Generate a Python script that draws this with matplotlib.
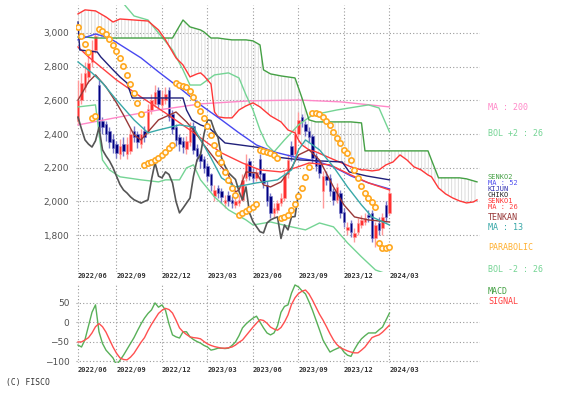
import matplotlib
matplotlib.use("Agg")
import matplotlib.pyplot as plt

W, H = 562, 397

# weekly bars, week 0 = first bar (2022/06)
opens = [2480, 2600, 2680, 2740, 2830, 2900, 2690, 2480, 2460, 2420,
         2370, 2340, 2280, 2340, 2280, 2300, 2420, 2400, 2340, 2420,
         2420, 2540, 2580, 2660, 2570, 2600, 2660, 2520, 2440, 2380,
         2360, 2310, 2350, 2450, 2320, 2280, 2250, 2210, 2160, 2030,
         2080, 2060, 1990, 2040, 2010, 1980, 1990, 2010, 2140, 2240,
         2170, 2140, 2250, 2170, 2100, 2030, 1930, 1950, 1990, 2020,
         2160, 2330, 2280, 2400, 2500, 2460, 2420, 2390, 2270, 2220,
         2060, 2150, 2140, 2060, 2010, 2050, 1940, 1830, 1870, 1790,
         1820, 1860, 1880, 1920, 1930, 1780, 1870, 1840, 1980, 1930]
highs = [2720, 2760, 2830, 2880, 2960, 3000, 2720, 2500, 2480, 2440,
         2400, 2360, 2370, 2380, 2380, 2430, 2450, 2420, 2430, 2450,
         2580, 2640, 2690, 2680, 2660, 2680, 2680, 2540, 2460, 2400,
         2380, 2390, 2470, 2470, 2340, 2300, 2270, 2230, 2170, 2100,
         2100, 2080, 2040, 2060, 2030, 2030, 2040, 2160, 2280, 2260,
         2200, 2200, 2280, 2170, 2120, 2050, 1990, 2010, 2050, 2180,
         2280, 2360, 2430, 2530, 2520, 2480, 2440, 2400, 2290, 2240,
         2180, 2180, 2160, 2080, 2110, 2070, 1960, 1880, 1890, 1840,
         1900, 1920, 1930, 1950, 1950, 1880, 1910, 1930, 2000, 2080]
lows = [2460, 2580, 2650, 2700, 2800, 2880, 2380, 2400, 2360, 2320,
        2290, 2260, 2250, 2270, 2250, 2280, 2350, 2320, 2320, 2350,
        2400, 2520, 2560, 2550, 2550, 2580, 2480, 2400, 2330, 2300,
        2290, 2280, 2330, 2280, 2240, 2200, 2170, 2120, 2060, 2000,
        2020, 1990, 1960, 1970, 1960, 1960, 1970, 2000, 2120, 2130,
        2110, 2120, 2130, 2080, 1970, 1900, 1910, 1930, 1970, 2000,
        2140, 2240, 2260, 2380, 2440, 2390, 2350, 2230, 2180, 2140,
        1960, 2100, 2030, 1980, 1990, 1900, 1850, 1800, 1790, 1760,
        1800, 1840, 1860, 1880, 1760, 1730, 1800, 1800, 1880, 1920]
closes = [2600, 2700, 2760, 2820, 2900, 2980, 2420, 2440, 2400, 2350,
          2320, 2290, 2330, 2300, 2340, 2400, 2380, 2350, 2400, 2380,
          2550, 2600, 2650, 2580, 2620, 2640, 2500, 2430, 2365, 2340,
          2323, 2360, 2440, 2306, 2270, 2240, 2200, 2150, 2100, 2068,
          2050, 2027, 2010, 2000, 1990, 2000, 2009, 2130, 2230, 2150,
          2140, 2175, 2160, 2110, 2000, 1932, 1960, 1990, 2020, 2150,
          2246, 2276, 2400, 2484, 2480, 2420, 2380, 2260, 2210, 2170,
          2150, 2130, 2060, 2009, 2086, 1932, 1880, 1850, 1820, 1813,
          1872, 1890, 1900, 1908, 1780, 1860, 1831, 1908, 1910, 2050]

parabolic = [3036, 2982, 2935, 2887, 2496, 2508, 3024, 3012, 2994, 2964,
             2929, 2893, 2852, 2804, 2751, 2697, 2644, 2585, 2519, 2217,
             2228, 2234, 2246, 2258, 2276, 2294, 2318, 2335, 2703, 2691,
             2686, 2680, 2656, 2620, 2579, 2537, 2496, 2448, 2395, 2335,
             2288, 2234, 2175, 2128, 2080, 2039, 1920, 1932, 1944, 1956,
             1967, 1985, 2306, 2300, 2294, 2288, 2276, 2258, 1902, 1908,
             1920, 1950, 1985, 2033, 2080, 2146, 2205, 2525, 2525, 2519,
             2502, 2478, 2454, 2413, 2377, 2347, 2306, 2288, 2246, 2187,
             2140, 2092, 2050, 2021, 1997, 1967, 1754, 1724, 1724, 1730]

# ichimoku cloud (senko spans, shifted 26 weeks ahead)
cloud_weeks = [0, 2, 5, 8, 10, 12, 16, 20, 23, 25, 27, 28, 30, 32, 34, 35, 36, 38, 39, 40,
               42, 44, 46, 48, 50, 52, 53, 55, 58, 60, 62, 63, 64, 66, 68, 70, 72, 74, 76, 78,
               81, 82, 84, 86, 88, 90, 92, 94, 96, 98, 100, 101, 103, 105, 107, 109, 111, 113, 114]
senko1 = [3113, 3137, 3131, 3095, 3065, 3083, 3077, 3071, 3018, 2959,
          2887, 2852, 2810, 2739, 2757, 2763, 2745, 2697, 2531, 2502,
          2496, 2496, 2543, 2567, 2585, 2561, 2543, 2508, 2472, 2424,
          2407, 2365, 2335, 2306, 2294, 2276, 2258, 2240, 2223, 2205,
          2187, 2187, 2181, 2187, 2217, 2234, 2276, 2246, 2205, 2187,
          2157, 2146, 2080, 2045, 2021, 2003, 1991, 1997, 2009]
senko2 = [2976, 2976, 2970, 2970, 2970, 2970, 2970, 2970, 2970, 2970,
          2970, 3006, 3077, 3036, 3024, 3018, 3006, 2970, 2970, 2970,
          2964, 2959, 2959, 2959, 2953, 2929, 2781, 2757, 2745, 2739,
          2733, 2674, 2614, 2484, 2472, 2472, 2472, 2472, 2472, 2472,
          2466, 2300, 2300, 2300, 2300, 2300, 2300, 2300, 2300, 2300,
          2300, 2246, 2140, 2140, 2140, 2140, 2134, 2122, 2116]

ma200_weeks = [0, 12, 23, 35, 49, 63, 75, 89]
ma200 = [2454, 2502, 2543, 2579, 2597, 2602, 2591, 2561]

ma52_weeks = [0, 5, 9, 18, 23, 29, 35, 41, 46, 51, 56, 63, 68, 73, 78, 83, 89]
ma52 = [2959, 2994, 2970, 2852, 2769, 2674, 2573, 2484, 2407, 2335, 2294, 2258, 2240, 2205, 2151, 2110, 2074]

ma26_weeks = [0, 3, 11, 18, 25, 32, 37, 41, 47, 52, 58, 62, 66, 72, 78, 83, 89]
ma26 = [2917, 2858, 2721, 2620, 2525, 2424, 2347, 2288, 2228, 2187, 2175, 2199, 2228, 2217, 2157, 2110, 2068]

kijun_weeks = [0, 0.5, 5.5, 6.5, 10, 12, 14, 15.5, 30, 31, 32.5, 35, 37.5, 42, 52.5, 56.5, 63.5, 75.5, 77.5, 82.5, 89]
kijun = [3065, 2899, 2887, 2858, 2781, 2739, 2703, 2614, 2614, 2543, 2484, 2454, 2436, 2347, 2318, 2264, 2246, 2234, 2175, 2151, 2128]

tenkan_weeks = [0, 3, 5, 8, 11, 13, 16, 18, 20, 23, 28, 31, 33, 36, 40, 43, 45, 46, 48, 51,
                53, 55, 58, 61, 63, 66, 69, 73, 76, 79, 83, 89]
tenkan = [2602, 2709, 2751, 2680, 2585, 2513, 2395, 2365, 2413, 2484, 2531, 2472, 2424, 2335, 2228, 2157,
          2056, 2068, 2175, 2169, 2098, 2086, 2116, 2199, 2276, 2306, 2246, 2086, 1979, 1908, 1890, 1878]

ma13_weeks = [0, 4, 7, 11, 16, 20, 23, 29, 33, 38, 41, 45, 51, 57, 61, 63, 65, 69, 73, 77, 81, 84, 89]
ma13 = [2828, 2763, 2703, 2602, 2484, 2407, 2424, 2454, 2442, 2258, 2140, 2086, 2110, 2128, 2187, 2306,
        2365, 2306, 2205, 2086, 1979, 1908, 1860]

bol_up_weeks = [10, 12, 14, 16, 20, 23, 27, 30, 32, 35, 39, 43, 46, 48, 50, 52, 54, 56, 59, 63, 67, 74, 83, 86, 89]
bol_up = [3260, 3200, 3150, 3101, 3077, 3000, 2899, 2781, 2691, 2691, 2751, 2763, 2733, 2632, 2543, 2424,
          2335, 2294, 2365, 2454, 2513, 2543, 2573, 2555, 2413]
bol_dn_weeks = [0, 5, 6, 7, 9, 12, 18, 23, 25, 29, 31, 33, 35, 39, 43, 48, 50, 55, 61, 65, 69, 73, 77, 81, 85, 89]
bol_dn = [2561, 2573, 2407, 2246, 2187, 2146, 2128, 2116, 2128, 2128, 2199, 2217, 2128, 2027, 1950, 1890,
          1860, 1878, 1849, 1831, 1872, 1849, 1754, 1671, 1593, 1564]

macd = [-59, -64, -45, -10, 25, 44, -25, -55, -72, -82,
        -92, -110, -98, -85, -70, -55, -40, -22, -5, 10,
        22, 31, 49, 38, 44, 30, -5, -33, -38, -41,
        -25, -25, -38, -45, -50, -54, -60, -64, -72, -70,
        -67, -67, -68, -67, -60, -51, -35, -15, -5, 3,
        10, 15, 0, -15, -28, -33, -28, -10, 25, 40,
        44, 74, 95, 90, 80, 72, 52, 30, 5, -20,
        -46, -62, -77, -72, -68, -64, -77, -85, -88, -70,
        -55, -43, -35, -28, -28, -28, -20, -13, 5, 23]
signal = [-51, -51, -46, -40, -28, -12, -4, -12, -26, -45,
          -64, -80, -92, -96, -97, -90, -80, -66, -52, -40,
          -22, -6, 8, 22, 30, 35, 32, 23, 5, -15,
          -25, -32, -38, -40, -41, -43, -50, -56, -60, -63,
          -65, -67, -67, -66, -64, -59, -52, -46, -35, -24,
          -13, -3, 6, 4, -3, -13, -18, -21, -14, 0,
          18, 45, 62, 73, 79, 82, 72, 56, 38, 20,
          5, -12, -30, -46, -58, -66, -70, -74, -77, -79,
          -79, -72, -64, -52, -40, -36, -33, -26, -17, -8]

date_ticks = [0, 11, 24, 37, 50, 63, 76, 89]
date_labels = ["2022/06", "2022/09", "2022/12", "2023/03", "2023/06", "2023/09", "2023/12", "2024/03"]
price_ticks = [1800, 2000, 2200, 2400, 2600, 2800, 3000]
macd_ticks = [50, 0, -50, -100]

plt.rcParams['hatch.linewidth'] = 0.6

fig = plt.figure(figsize=(W / 100, H / 100), dpi=100)
ax = fig.add_axes([76.25 / W, 1 - 272 / H, 403.75 / W, 267 / H])
ax2 = fig.add_axes([76.25 / W, 1 - 363 / H, 403.75 / W, 80 / H])

grid_kw = dict(color="#9a9a9a", lw=0.8, ls=(0, (1, 2)))
for a in (ax, ax2):
    for s in a.spines.values():
        s.set_visible(False)
    a.set_xlim(-0.5, 114.86)
    a.set_xticks(date_ticks)
    a.grid(True, **grid_kw)
    a.set_axisbelow(True)
    a.tick_params(length=0, labelsize=6.5, labelcolor="#505050", pad=5)

ax.set_ylim(1581, 3166)
ax.set_yticks(price_ticks)
ax.set_yticklabels([f"{v:,}" for v in price_ticks])
ax.tick_params(labelbottom=False)

# cloud
ax.fill_between(cloud_weeks, senko1, senko2, facecolor="none", edgecolor="#d6d6d6",
                hatch="|||||", lw=0, zorder=1)

# candles
weeks = list(range(len(closes)))
up = [c >= o for o, c in zip(opens, closes)]
body_col = ["#ff3030" if u else "#000080" for u in up]
wick_col = ["#ff9a9a" if u else "#7878c8" for u in up]
ax.vlines(weeks, lows, highs, colors=wick_col, lw=1, zorder=3)
ax.bar(weeks, [max(abs(c - o), 6) for o, c in zip(opens, closes)],
       bottom=[min(o, c) for o, c in zip(opens, closes)], width=0.7,
       color=body_col, edgecolor=wick_col, lw=0.4, zorder=3)

lw = 1.0
ax.plot(ma200_weeks, ma200, color="#ff88c8", lw=lw, zorder=4)
ax.plot(bol_up_weeks, bol_up, color="#74d494", lw=lw, zorder=4)
ax.plot(bol_dn_weeks, bol_dn, color="#74d494", lw=lw, zorder=4)
ax.plot(cloud_weeks, senko2, color="#44a044", lw=lw, zorder=4)
ax.plot(cloud_weeks, senko1, color="#ff3838", lw=lw, zorder=4)
ax.plot(ma52_weeks, ma52, color="#4848f0", lw=lw, zorder=4)
ax.plot(ma26_weeks, ma26, color="#ff4040", lw=lw, zorder=4)
ax.plot(kijun_weeks, kijun, color="#20207a", lw=lw, zorder=4)
ax.plot(tenkan_weeks, tenkan, color="#983838", lw=lw, zorder=4)
ax.plot(ma13_weeks, ma13, color="#38a8a8", lw=lw, zorder=4)
ax.plot(weeks[:len(closes) - 26], closes[26:], color="#555555", lw=1.2, zorder=4)
ax.plot(weeks, parabolic, "o", ms=3.8, mfc="#fffaf0", mec="#ffa820", mew=1.2, ls="none", zorder=6)

# MACD panel
ax2.set_ylim(-105, 100)
ax2.set_yticks(macd_ticks)
ax2.set_xticklabels(date_labels)
ax2.tick_params(axis="x", labeltop=True, labelbottom=True, pad=3)
for t in ax2.xaxis.get_major_ticks():
    for lab in (t.label1, t.label2):
        lab.set_horizontalalignment("left")
        lab.set_fontfamily("DejaVu Sans Mono")
        lab.set_fontweight("bold")
        lab.set_fontsize(5)
        lab.set_color("#333333")
ax2.plot(weeks, macd, color="#58b058", lw=1.0)
ax2.plot(weeks, signal, color="#ff5050", lw=1.0)

mono = "DejaVu Sans Mono"
labels = [
    ("MA : 200", 107, "#ff88c8", 6),
    ("BOL +2 : 26", 134, "#74d494", 6),
    ("SENKO2", 177, "#44a044", 5),
    ("MA : 52", 183, "#5050f0", 5),
    ("KIJUN", 189, "#3030b0", 5),
    ("CHIKO", 195, "#222222", 5),
    ("SENKO1", 201, "#ff3030", 5),
    ("MA : 26", 207, "#ff4040", 5),
    ("TENKAN", 218, "#983838", 6),
    ("MA : 13", 228, "#38a8a8", 6),
    ("PARABOLIC", 248, "#ffb030", 6),
    ("BOL -2 : 26", 270, "#74d494", 6),
    ("MACD", 291, "#44a044", 6),
    ("SIGNAL", 301, "#ff4040", 6),
]
for text, y, col, size in labels:
    fig.text(488 / W, 1 - y / H, text, color=col, fontsize=size, family=mono, va="center")

fig.text(6 / W, 1 - 383 / H, "(C) FISCO", color="#333333", fontsize=5.8, family=mono, va="center")

fig.savefig("out.png", dpi=100)
